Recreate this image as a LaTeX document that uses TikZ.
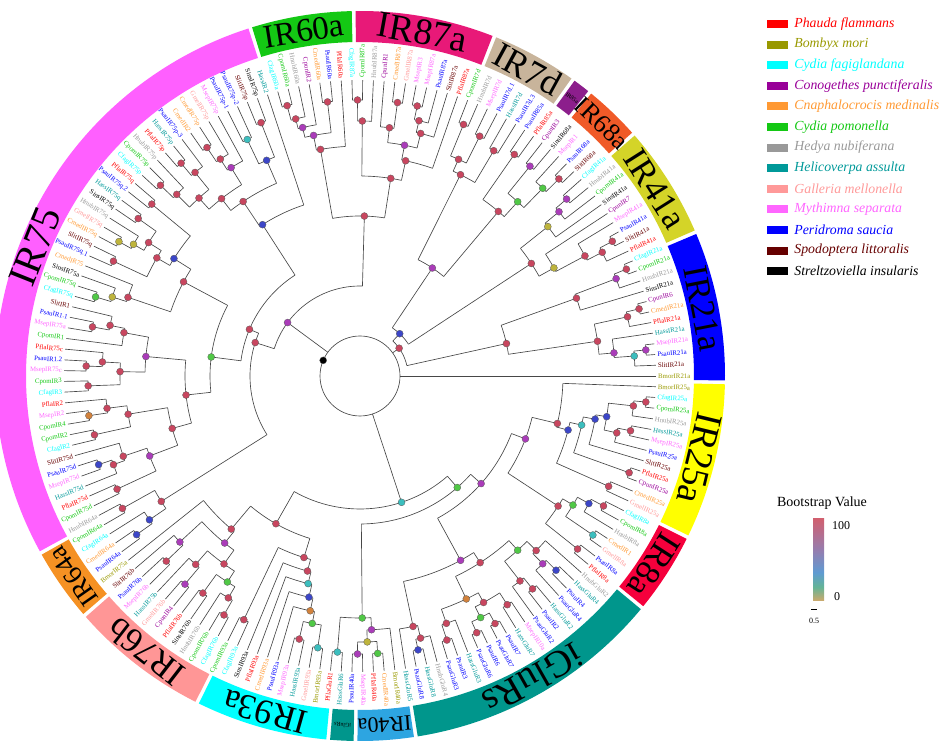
\documentclass[tikz,border=0pt]{standalone}
\usepackage{fontspec}
\setmainfont{Liberation Serif}
\usetikzlibrary{positioning}
\pgfdeclarelayer{fg}
\pgfsetlayers{main,fg}

% species colours
\definecolor{Pfla}{RGB}{255,0,0}
\definecolor{Bmor}{RGB}{153,153,0}
\definecolor{Cfag}{RGB}{0,255,255}
\definecolor{Cpun}{RGB}{153,0,153}
\definecolor{Cmed}{RGB}{255,153,51}
\definecolor{Cpom}{RGB}{20,200,20}
\definecolor{Hnub}{RGB}{153,153,153}
\definecolor{Hass}{RGB}{0,153,153}
\definecolor{Gmel}{RGB}{255,153,153}
\definecolor{Msep}{RGB}{255,102,255}
\definecolor{Psau}{RGB}{0,0,255}
\definecolor{Slit}{RGB}{102,0,0}
\definecolor{Sins}{RGB}{0,0,0}
% bootstrap dots
\definecolor{bsr}{RGB}{200,70,95}
\definecolor{bsp}{RGB}{170,60,185}
\definecolor{bsb}{RGB}{60,70,200}
\definecolor{bsc}{RGB}{60,190,190}
\definecolor{bsg}{RGB}{80,200,70}
\definecolor{bsy}{RGB}{190,180,60}
\definecolor{bso}{RGB}{210,130,60}
% colour bar
\definecolor{cb0}{RGB}{200,170,110}
\definecolor{cb1}{RGB}{100,180,150}
\definecolor{cb2}{RGB}{95,155,210}
\definecolor{cb3}{RGB}{150,125,175}
\definecolor{cb4}{RGB}{208,96,112}
% outer ring
\definecolor{rIRa}{RGB}{0,0,255}
\definecolor{rIRb}{RGB}{212,212,40}
\definecolor{rIRc}{RGB}{240,90,40}
\definecolor{rIRd}{RGB}{140,30,140}
\definecolor{rIRe}{RGB}{200,180,155}
\definecolor{rIRf}{RGB}{232,25,120}
\definecolor{rIRg}{RGB}{20,200,20}
\definecolor{rIRh}{RGB}{255,95,255}
\definecolor{rIRi}{RGB}{245,145,35}
\definecolor{rIRj}{RGB}{255,150,150}
\definecolor{rIRk}{RGB}{0,255,255}
\definecolor{rIRl}{RGB}{0,150,140}
\definecolor{rIRm}{RGB}{45,165,225}
\definecolor{rIRn}{RGB}{245,0,60}
\definecolor{rIRo}{RGB}{255,255,0}

\pgfdeclareverticalshading{boot}{100bp}{color(0bp)=(cb0); color(25bp)=(cb0); color(33bp)=(cb1); color(42bp)=(cb2); color(56bp)=(cb3); color(75bp)=(cb4); color(100bp)=(cb4)}

\def\stepA{2.080925}
\def\tipR{296}
\def\labR{298}
\def\ringin{334}
\def\ringout{365}
\def\ringmid{349.5}

% clade: first leaf, split leaf, last leaf, radius, parent radius, dot colour
\newcommand{\clade}[6]{%
  \pgfmathsetmacro\angL{((#1+#2)/2-1)*\stepA}%
  \pgfmathsetmacro\angR{((#2+1+#3)/2-1)*\stepA}%
  \pgfmathsetmacro\angM{((#1+#3)/2-1)*\stepA}%
  \draw[branch] (\angL:#4) arc[start angle=\angL, end angle=\angR, radius=#4] (\angM:#4) -- (\angM:#5);%
  \ifnum#1=#2 \draw[branch] (\angL:#4) -- (\angL:\tipR);\fi
  \ifnum\numexpr#2+1\relax=#3 \draw[branch] (\angR:#4) -- (\angR:\tipR);\fi
  \begin{pgfonlayer}{fg}\node[bsdot, fill=bs#6] (d#1-#3) at (\angM:#4) {};\end{pgfonlayer}%
}

% ring segment: name, from, to, colour, text, size
\newcommand{\ringseg}[6]{%
  \pgfmathsetmacro\segA{#2+0.3}\pgfmathsetmacro\segB{#3-0.3}%
  \pgfmathsetmacro\segmid{(#2+#3)/2}\pgfmathsetmacro\segrot{(#2+#3)/2-90}%
  \fill[#4] (\segA:\ringin) arc[start angle=\segA, end angle=\segB, radius=\ringin] -- (\segB:\ringout) arc[start angle=\segB, end angle=\segA, radius=\ringout] -- cycle;
  \node[inner sep=0pt, rotate=\segrot, font=\fontsize{#6}{#6}\selectfont] (#1) at (\segmid:\ringmid) {#5};
}

\tikzset{
  branch/.style={draw=black!72, line width=0.65pt},
  bsdot/.style={circle, draw=black!65, line width=0.3pt, inner sep=0pt, minimum size=7pt},
  leaf/.style={font=\fontsize{6.8}{7}\selectfont, inner sep=0pt},
  legbox/.style={minimum width=21pt, minimum height=8pt, inner sep=0pt},
  legtext/.style={font=\itshape\fontsize{13.8}{15}\selectfont, inner sep=0pt}
}

\begin{document}
\begin{tikzpicture}[x=1pt,y=1pt]
\useasboundingbox (0,0) rectangle (941,752);

\begin{scope}[shift={(360,376)}]
% outer ring
\ringseg{sIRa}{-1.0}{23.2}{rIRa}{IR21a}{35}
\ringseg{sIRb}{23.2}{41.5}{rIRb}{IR41a}{35}
\ringseg{sIRc}{41.5}{51.0}{rIRc}{IR68a}{26}
\ringseg{sIRd}{51.0}{54.3}{rIRd}{IR85a}{6}
\ringseg{sIRe}{54.3}{68.4}{rIRe}{IR7d}{36}
\ringseg{sIRf}{68.4}{91.0}{rIRf}{IR87a}{37}
\ringseg{sIRg}{91.0}{107.5}{rIRg}{IR60a}{33}
\ringseg{sIRh}{107.5}{209}{rIRh}{IR75}{40}
\ringseg{sIRi}{209}{221}{rIRi}{IR64a}{27}
\ringseg{sIRj}{221}{243.5}{rIRj}{IR76b}{35}
\ringseg{sIRk}{243.5}{265}{rIRk}{IR93a}{35}
\ringseg{sIRl}{265}{269.3}{rIRl}{iGluRs}{6}
\ringseg{sIRm}{269.3}{278.8}{rIRm}{IR40a}{22}
\ringseg{sIRn}{278.8}{320.6}{rIRl}{iGluRs}{38}
\ringseg{sIRo}{320.6}{333.8}{rIRn}{IR8a}{35}
\ringseg{sIRp}{333.8}{359}{rIRo}{IR25a}{38}

% root
\draw[branch] (0,0) circle[radius=40];
\draw[branch] (0:40) -- (0:\tipR);
\begin{pgfonlayer}{fg}\node[bsdot, fill=black] (root) at (157:40) {};\end{pgfonlayer}

% IR21a, IR41a, IR68a, IR85a, IR7d
\clade{2}{12}{34}{48}{40}{r}
\clade{13}{21}{34}{58}{48}{b}
\clade{22}{28}{34}{130}{58}{p}
\clade{2}{8}{12}{150}{48}{r}
\clade{2}{5}{8}{240}{150}{r}
\clade{2}{4}{5}{255}{240}{p}
\clade{2}{2}{4}{275}{255}{c}
\clade{3}{3}{4}{287}{275}{p}
\clade{6}{6}{8}{274}{240}{r}
\clade{7}{7}{8}{287}{274}{r}
\clade{9}{9}{12}{230}{150}{r}
\clade{10}{10}{12}{274}{230}{p}
\clade{11}{11}{12}{287}{274}{r}
\clade{13}{17}{21}{205}{58}{r}
\clade{13}{16}{17}{222}{205}{y}
\clade{13}{15}{16}{255}{222}{r}
\clade{13}{13}{15}{272}{255}{r}
\clade{14}{14}{15}{286}{272}{r}
\clade{18}{18}{21}{240}{205}{y}
\clade{19}{19}{21}{258}{240}{p}
\clade{20}{20}{21}{272}{258}{p}
\clade{22}{26}{28}{215}{130}{r}
\clade{22}{24}{26}{235}{215}{g}
\clade{22}{23}{24}{262}{235}{g}
\clade{22}{22}{23}{280}{262}{r}
\clade{25}{25}{26}{270}{235}{p}
\clade{27}{27}{28}{270}{215}{r}
\clade{29}{30}{34}{225}{130}{r}
\clade{29}{29}{30}{262}{225}{r}
\clade{31}{32}{34}{238}{225}{r}
\clade{31}{31}{32}{268}{238}{r}
\clade{33}{33}{34}{272}{238}{r}

% IR87a, IR60a, IR75, IR64a
\clade{35}{52}{105}{90}{40}{p}
\clade{35}{45}{52}{160}{90}{r}
\clade{53}{100}{105}{110}{90}{r}
\clade{35}{42}{45}{200}{160}{r}
\clade{35}{35}{42}{220}{200}{r}
\clade{36}{39}{42}{235}{220}{p}
\clade{36}{36}{39}{250}{235}{r}
\clade{37}{37}{39}{262}{250}{r}
\clade{38}{38}{39}{276}{262}{r}
\clade{40}{41}{42}{250}{235}{r}
\clade{40}{40}{41}{276}{250}{r}
\clade{43}{43}{45}{255}{200}{r}
\clade{44}{44}{45}{276}{255}{r}
\clade{46}{46}{52}{230}{160}{r}
\clade{47}{48}{52}{245}{230}{p}
\clade{47}{47}{48}{276}{245}{r}
\clade{49}{49}{52}{255}{245}{p}
\clade{50}{50}{52}{265}{255}{r}
\clade{51}{51}{52}{280}{265}{r}
\clade{53}{67}{100}{120}{110}{r}
\clade{53}{53}{67}{180}{120}{b}
\clade{54}{57}{67}{210}{180}{r}
\clade{54}{55}{57}{235}{210}{b}
\clade{54}{54}{55}{272}{235}{r}
\clade{56}{56}{57}{262}{235}{c}
\clade{58}{61}{67}{225}{210}{r}
\clade{58}{58}{61}{245}{225}{p}
\clade{59}{59}{61}{258}{245}{r}
\clade{60}{60}{61}{275}{258}{r}
\clade{62}{64}{67}{240}{225}{r}
\clade{62}{62}{64}{262}{240}{r}
\clade{63}{63}{64}{278}{262}{r}
\clade{65}{65}{67}{258}{240}{r}
\clade{66}{66}{67}{276}{258}{r}
\clade{68}{80}{100}{150}{120}{g}
\clade{68}{76}{80}{200}{150}{r}
\clade{68}{69}{76}{220}{200}{b}
\clade{68}{68}{69}{270}{220}{r}
\clade{70}{74}{76}{235}{220}{r}
\clade{70}{71}{74}{250}{235}{r}
\clade{70}{70}{71}{272}{250}{r}
\clade{72}{72}{74}{262}{250}{y}
\clade{73}{73}{74}{276}{262}{y}
\clade{75}{75}{76}{272}{235}{r}
\clade{77}{77}{80}{245}{200}{r}
\clade{78}{78}{80}{260}{245}{y}
\clade{79}{79}{80}{276}{260}{g}
\clade{81}{89}{100}{175}{150}{r}
\clade{81}{84}{89}{215}{175}{p}
\clade{81}{83}{84}{240}{215}{r}
\clade{81}{81}{83}{255}{240}{r}
\clade{82}{82}{83}{272}{255}{r}
\clade{85}{87}{89}{240}{215}{r}
\clade{85}{85}{87}{258}{240}{r}
\clade{86}{86}{87}{274}{258}{r}
\clade{88}{88}{89}{272}{240}{r}
\clade{90}{94}{100}{195}{175}{r}
\clade{90}{92}{94}{235}{195}{r}
\clade{90}{90}{92}{255}{235}{r}
\clade{91}{91}{92}{274}{255}{o}
\clade{93}{93}{94}{272}{235}{r}
\clade{95}{98}{100}{225}{195}{p}
\clade{95}{95}{98}{250}{225}{r}
\clade{96}{97}{98}{262}{250}{r}
\clade{96}{96}{97}{276}{262}{b}
\clade{99}{99}{100}{268}{225}{r}
\clade{101}{102}{105}{235}{110}{r}
\clade{101}{101}{102}{272}{235}{r}
\clade{103}{103}{105}{255}{235}{b}
\clade{104}{104}{105}{274}{255}{b}

% IR76b, IR93a, IR40a, iGluRs, IR8a, IR25a
\clade{106}{127}{173}{133}{40}{c}
\clade{106}{117}{127}{170}{133}{r}
\clade{128}{134}{173}{148}{133}{g}
\clade{135}{154}{173}{162}{148}{p}
\clade{155}{161}{173}{177}{162}{p}
\clade{106}{106}{117}{200}{170}{r}
\clade{107}{109}{117}{215}{200}{p}
\clade{107}{107}{109}{245}{215}{p}
\clade{108}{108}{109}{268}{245}{r}
\clade{110}{112}{117}{232}{215}{r}
\clade{110}{110}{112}{250}{232}{r}
\clade{111}{111}{112}{272}{250}{p}
\clade{113}{114}{117}{245}{232}{g}
\clade{113}{113}{114}{268}{245}{r}
\clade{115}{115}{117}{258}{245}{r}
\clade{116}{116}{117}{275}{258}{r}
\clade{118}{119}{127}{190}{170}{r}
\clade{118}{118}{119}{270}{190}{r}
\clade{120}{120}{127}{202}{190}{r}
\clade{121}{121}{127}{214}{202}{c}
\clade{122}{122}{127}{227}{214}{b}
\clade{123}{123}{127}{240}{227}{o}
\clade{124}{125}{127}{252}{240}{g}
\clade{124}{124}{125}{270}{252}{r}
\clade{126}{126}{127}{275}{252}{c}
\clade{128}{129}{134}{242}{148}{g}
\clade{128}{128}{129}{277}{242}{c}
\clade{130}{133}{134}{254}{242}{p}
\clade{130}{131}{133}{266}{254}{y}
\clade{130}{130}{131}{278}{266}{p}
\clade{132}{132}{133}{278}{266}{g}
\clade{135}{138}{154}{210}{162}{p}
\clade{135}{135}{138}{256}{210}{r}
\clade{136}{137}{138}{269}{256}{r}
\clade{136}{136}{137}{280}{269}{b}
\clade{139}{147}{154}{222}{210}{r}
\clade{139}{141}{147}{247}{222}{o}
\clade{139}{140}{141}{262}{247}{r}
\clade{139}{139}{140}{278}{262}{r}
\clade{142}{145}{147}{258}{247}{r}
\clade{142}{143}{145}{270}{258}{g}
\clade{142}{142}{143}{282}{270}{r}
\clade{144}{144}{145}{282}{270}{r}
\clade{146}{146}{147}{272}{258}{r}
\clade{148}{150}{154}{235}{222}{g}
\clade{148}{148}{150}{260}{235}{r}
\clade{149}{149}{150}{274}{260}{r}
\clade{151}{153}{154}{248}{235}{r}
\clade{151}{151}{153}{262}{248}{p}
\clade{152}{152}{153}{276}{262}{b}
\clade{155}{156}{161}{237}{177}{r}
\clade{155}{155}{156}{278}{237}{r}
\clade{157}{158}{161}{249}{237}{g}
\clade{157}{157}{158}{282}{249}{c}
\clade{159}{159}{161}{262}{249}{b}
\clade{160}{160}{161}{276}{262}{r}
\clade{162}{172}{173}{203}{177}{r}
\clade{162}{163}{172}{215}{203}{b}
\clade{162}{162}{163}{272}{215}{r}
\clade{164}{165}{172}{227}{215}{c}
\clade{164}{164}{165}{286}{227}{r}
\clade{166}{166}{172}{239}{227}{b}
\clade{167}{169}{172}{250}{239}{b}
\clade{167}{167}{169}{263}{250}{r}
\clade{168}{168}{169}{276}{263}{r}
\clade{170}{170}{172}{275}{250}{r}
\clade{171}{171}{172}{287}{275}{r}

% leaf labels
\foreach \sp/\gn [count=\i] in {Bmor/IR21a, Slit/IR21a, Psau/IR21a, Msep/IR21a, Hass/IR21a, Pfla/IR21a, Cmed/IR21a, Cpun/IR6, Sins/IR21a, Hnub/IR21a, Cpom/IR21a, Cfag/IR21a,
  Pfla/IR41a, Slit/IR41a, Psau/IR41a, Msep/IR41a, Cpun/IR7, Sins/IR41a, Cpom/IR41a, Hnub/IR41a, Cfag/IR41a,
  Slit/IR68a, Psau/IR68a, Msep/IR1, Sins/IR68a, Cpun/IR3, Pfla/IR85a, Psau/IR85a,
  Psau/IR7d.3, Hass/IR7d, Psau/IR7d.1, Msep/IR7d, Hnub/IR7d, Cpom/IR7d,
  Pfla/IR87a, Slit/IR87a, Psau/IR87a, Msep/IR87a, Msep/IR3, Gmel/IR87a, Cmed/IR87a, Cpun/IR1, Hnub/IR87a, Cpom/IR87a, Cfag/IR87a,
  Pfla/IR60a, Psau/IR60a, Cmed/IR60a, Cpun/IR2, Hnub/IR60a, Cpom/IR60a, Cfag/IR60a,
  Hass/IR2, Sins/IR75p, Slit/IR75p, Psau/IR75p-2, Psau/IR75p-1, Msep/IR75p, Gmel/IR75p, Cmed/IR75p, Cmed/IR2, Psau/IR75p-3, Hass/IR75p, Pfla/IR75p, Hnub/IR75p, Cpom/IR75p, Cfag/IR75p,
  Pfla/IR75q, Psau/IR75q.2, Hass/IR75q, Sins/IR75q, Hnub/IR75q, Gmel/IR75q, Cmed/IR75q, Slit/IR75q, Psau/IR75q.1, Cmed/IR75, Sins/IR75a, Cpom/IR75q, Cfag/IR75q,
  Slit/IR1, Psau/IR1.1, Msep/IR75a, Cpom/IR1, Pfla/IR75c, Psau/IR1.2, Msep/IR75c, Cpom/IR3, Cfag/IR3,
  Pfla/IR2, Msep/IR2, Cpom/IR4, Cpom/IR2, Cfag/IR2,
  Slit/IR75d, Psau/IR75d, Msep/IR75d, Hass/IR75d, Pfla/IR75d, Cpom/IR75d,
  Hnub/IR64a, Cpom/IR64a, Cfag/IR64a, Cmed/IR64a, Psau/IR64a,
  Bmor/IR75a, Slit/IR76b, Psau/IR76b, Msep/IR76b, Hass/IR75b, Gmel/IR76b, Cpun/IR4, Pfla/IR76b, Sins/IR76b, Hnub/IR76b, Cpom/IR76b, Cfag/IR76b,
  Cpom/IR93a, Cfag/IR93a, Sins/IR93a, Pfla/IR93a, Cmed/IR93a, Psau/IR93a, Msep/IR93a, Hass/IR93a, Gmel/IR93a, Bmor/IR93a,
  Pfla/GluR1, Hass/GluR6, Psau/IR40a, Msep/IR40a, Pfla/IR40a, Cmed/IR40a, Bmor/IR40a,
  Hass/GluR5, Psau/GluR8, Hass/GluR8, Hnub/GluR4, Psau/GluR3, Psau/IR3, Hass/GluR3, Psau/GluR6, Psau/IR6, Psau/GluR7, Psau/IR7, Hass/GluR7, Msep/IR10a, Psau/GluR2, Psau/IR2, Hass/GluR2, Psau/GluR4, Psau/IR4, Hass/GluR4, Hnub/GluR2,
  Pfla/IR8a, Psau/IR8a, Gmel/IR8a, Cmed/IR1, Hnub/IR8a, Cpom/IR8a, Cfag/IR8a,
  Gmel/IR25a, Cmed/IR25a, Cpun/IR25a, Pfla/IR25a, Slit/IR25a, Psau/IR25a, Msep/IR25a, Hass/IR25a, Hnub/IR25a, Cpom/IR25a, Cfag/IR25a, Bmor/IR25a}{
  \pgfmathsetmacro\leafang{(\i-1)*\stepA}
  \pgfmathtruncatemacro\flip{(\leafang>90)&&(\leafang<270)}
  \ifnum\flip=1
    \pgfmathsetmacro\rotL{\leafang+180}
    \node[leaf, text=\sp, anchor=east, rotate=\rotL] (l\i) at (\leafang:\labR) {\sp\gn};
  \else
    \node[leaf, text=\sp, anchor=west, rotate=\leafang] (l\i) at (\leafang:\labR) {\sp\gn};
  \fi
}
\end{scope}

% legend
\foreach \sp/\full [count=\k] in {Pfla/Phauda flammans, Bmor/Bombyx mori, Cfag/Cydia fagiglandana, Cpun/Conogethes punctiferalis, Cmed/Cnaphalocrocis medinalis, Cpom/Cydia pomonella, Hnub/Hedya nubiferana, Hass/Helicoverpa assulta, Gmel/Galleria mellonella, Msep/Mythimna separata, Psau/Peridroma saucia, Slit/Spodoptera littoralis, Sins/Streltzoviella insularis}{
  \pgfmathsetmacro\ly{728-20.6*(\k-1)}
  \node[legbox, fill=\sp] (bx\k) at (777.5,\ly) {};
  \node[legtext, text=\sp, right=6pt of bx\k] (lg\k) {\full};
}

% bootstrap colour bar
\node[shade, shading=boot, minimum width=11pt, minimum height=81pt, inner sep=0pt] (cbar) at (818.5,192.5) {};
\node[font=\fontsize{14}{16}\selectfont] (cbtitle) at (822,249) {Bootstrap Value};
\node[anchor=west, font=\fontsize{12}{13}\selectfont, inner sep=0pt] (cbhi) at (832,226) {100};
\node[anchor=west, font=\fontsize{12}{13}\selectfont, inner sep=0pt] (cblo) at (834,155) {0};
\coordinate (sbA) at (811,143);
\coordinate (sbB) at (817,143);
\draw[line width=1pt] (sbA) -- (sbB);
\node[font=\fontsize{8}{9}\selectfont, inner sep=0pt] (sblab) at (814,131) {0.5};
\end{tikzpicture}
\end{document}
